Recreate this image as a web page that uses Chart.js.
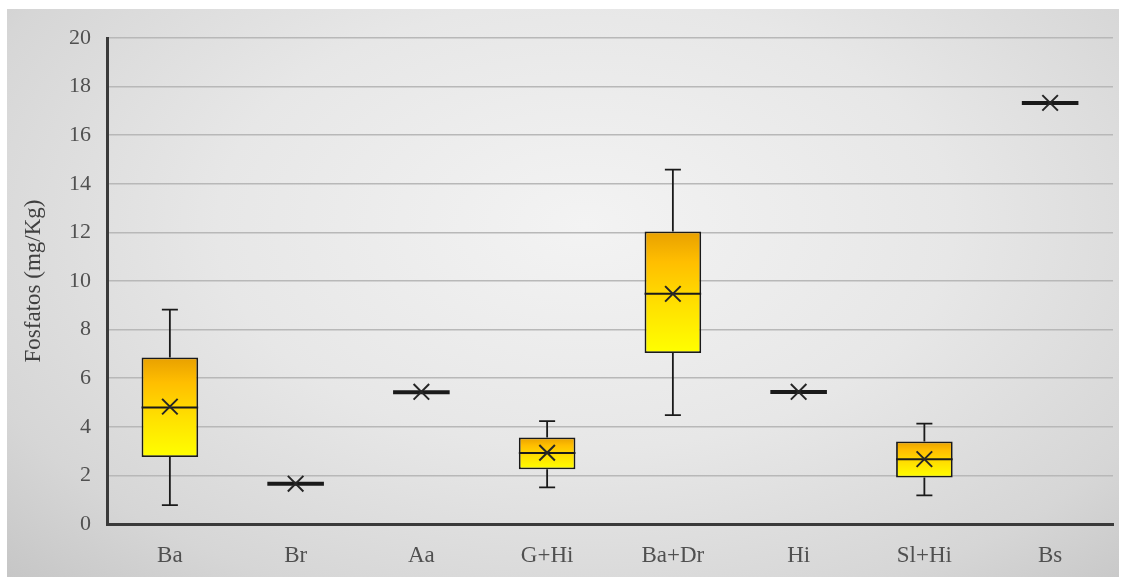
<!DOCTYPE html>
<html>
<head>
<meta charset="utf-8">
<script src="https://cdn.jsdelivr.net/npm/chart.js@4"></script>
<style>
  html, body { margin: 0; padding: 0; background: #ffffff; }
  #frame {
    position: absolute; left: 7px; top: 9px; width: 1112px; height: 568px;
    background: radial-gradient(ellipse farthest-corner at 52% 38%, #f3f3f3 0%, #e7e7e7 45%, #d6d6d6 80%, #c6c6c6 100%);
  }
  #wrap { position: absolute; left: 0; top: 0; width: 1126px; height: 577px; }
</style>
</head>
<body>
<div id="frame"></div>
<div id="wrap"><canvas id="chart" width="1126" height="577"></canvas></div>
<script>
// Phosphate content per vegetation unit (five-number summary + mean)
const categories    = ['Ba', 'Br', 'Aa', 'G+Hi', 'Ba+Dr', 'Hi', 'Sl+Hi', 'Bs'];
const minimum       = [0.78, 1.66, 5.42, 1.51, 4.48, 5.43, 1.18, 17.33];
const lowerQuartile = [2.76, 1.66, 5.42, 2.25, 7.04, 5.43, 1.91, 17.33];
const median        = [4.79, 1.66, 5.42, 2.92, 9.48, 5.43, 2.66, 17.33];
const upperQuartile = [6.85, 1.66, 5.42, 3.56, 12.04, 5.43, 3.40, 17.33];
const maximum       = [8.82, 1.66, 5.42, 4.23, 14.58, 5.43, 4.13, 17.33];
const mean          = [4.83, 1.66, 5.44, 2.93, 9.47, 5.44, 2.67, 17.33];
const yTicks        = [0, 2, 4, 6, 8, 10, 12, 14, 16, 18, 20];

const boxRanges = categories.map((_, i) => [lowerQuartile[i], upperQuartile[i]]);
const collapsed = i => upperQuartile[i] - lowerQuartile[i] === 0;

// Orange-to-yellow fill spanning each box from Q3 down to Q1
function boxFill(ctx) {
  const chart = ctx.chart;
  const y = chart.scales.y;
  const i = ctx.dataIndex;
  if (!y || !chart.chartArea || i === undefined) return '#ffd000';
  const top = y.getPixelForValue(upperQuartile[i]);
  const bot = y.getPixelForValue(lowerQuartile[i]);
  if (!(bot > top)) return '#ffd000';
  const g = chart.ctx.createLinearGradient(0, top, 0, bot);
  g.addColorStop(0, '#e8a000');
  g.addColorStop(0.25, '#ffbe00');
  g.addColorStop(0.6, '#ffe000');
  g.addColorStop(1, '#ffff00');
  return g;
}

// Whiskers, caps and median line drawn on top of the boxes
const whiskerPlugin = {
  id: 'whiskers',
  afterDatasetDraw(chart, args) {
    if (args.index !== 0) return;
    const y = chart.scales.y;
    const c = chart.ctx;
    const meta = args.meta;
    c.save();
    c.strokeStyle = '#1a1a1a';
    c.lineCap = 'butt';
    meta.data.forEach((bar, i) => {
      const x = bar.x;
      const half = bar.width / 2;
      const cap = 8;
      const pMin = y.getPixelForValue(minimum[i]);
      const pQ1 = y.getPixelForValue(lowerQuartile[i]);
      const pQ3 = y.getPixelForValue(upperQuartile[i]);
      const pMax = y.getPixelForValue(maximum[i]);
      const pMed = y.getPixelForValue(median[i]);
      c.lineWidth = 1.8;
      if (maximum[i] > upperQuartile[i]) {
        c.beginPath();
        c.moveTo(x, pQ3); c.lineTo(x, pMax);
        c.moveTo(x - cap, pMax); c.lineTo(x + cap, pMax);
        c.stroke();
      }
      if (minimum[i] < lowerQuartile[i]) {
        c.beginPath();
        c.moveTo(x, pQ1); c.lineTo(x, pMin);
        c.moveTo(x - cap, pMin); c.lineTo(x + cap, pMin);
        c.stroke();
      }
      c.lineWidth = collapsed(i) ? 4 : 2;
      c.beginPath();
      c.moveTo(x - half, pMed); c.lineTo(x + half, pMed);
      c.stroke();
    });
    c.restore();
  }
};

const serif = "'Liberation Serif', 'Times New Roman', serif";

new Chart(document.getElementById('chart'), {
  type: 'bar',
  data: {
    labels: categories,
    datasets: [
      {
        label: 'Caixa',
        data: boxRanges,
        backgroundColor: boxFill,
        borderColor: '#1a1a1a',
        borderWidth: ctx => (ctx.dataIndex !== undefined && collapsed(ctx.dataIndex)) ? 0 : 1.8,
        borderSkipped: false,
        barPercentage: 0.45,
        categoryPercentage: 1,
        grouped: false,
        order: 1
      },
      {
        type: 'line',
        label: 'Média',
        data: mean,
        showLine: false,
        pointStyle: 'crossRot',
        pointRadius: 11,
        pointHoverRadius: 11,
        pointBorderWidth: 2,
        borderColor: '#262626',
        backgroundColor: '#262626',
        order: 0
      }
    ]
  },
  options: {
    responsive: false,
    animation: false,
    devicePixelRatio: 1,
    layout: { padding: { top: 38, right: 6, bottom: 0, left: 0 } },
    plugins: {
      legend: { display: false },
      tooltip: { enabled: false }
    },
    scales: {
      x: {
        grid: { display: false, drawTicks: false },
        border: { display: true, color: '#3a3a3a', width: 3 },
        ticks: { color: '#505050', font: { family: serif, size: 23 }, padding: 18 },
        afterFit: s => { s.height = 53; }
      },
      y: {
        min: 0,
        max: 20,
        afterBuildTicks: s => { s.ticks = yTicks.map(v => ({ value: v })); },
        grid: { color: '#b8b8b8', lineWidth: 1.5, drawTicks: false },
        border: { display: true, color: '#3a3a3a', width: 3 },
        ticks: { color: '#505050', font: { family: serif, size: 22 }, padding: 16 },
        title: {
          display: true,
          text: 'Fosfatos (mg/Kg)',
          color: '#404040',
          font: { family: serif, size: 23 },
          padding: { top: 20, bottom: 0 }
        },
        afterFit: s => { s.width = 107; }
      }
    }
  },
  plugins: [whiskerPlugin]
});
</script>
</body>
</html>
